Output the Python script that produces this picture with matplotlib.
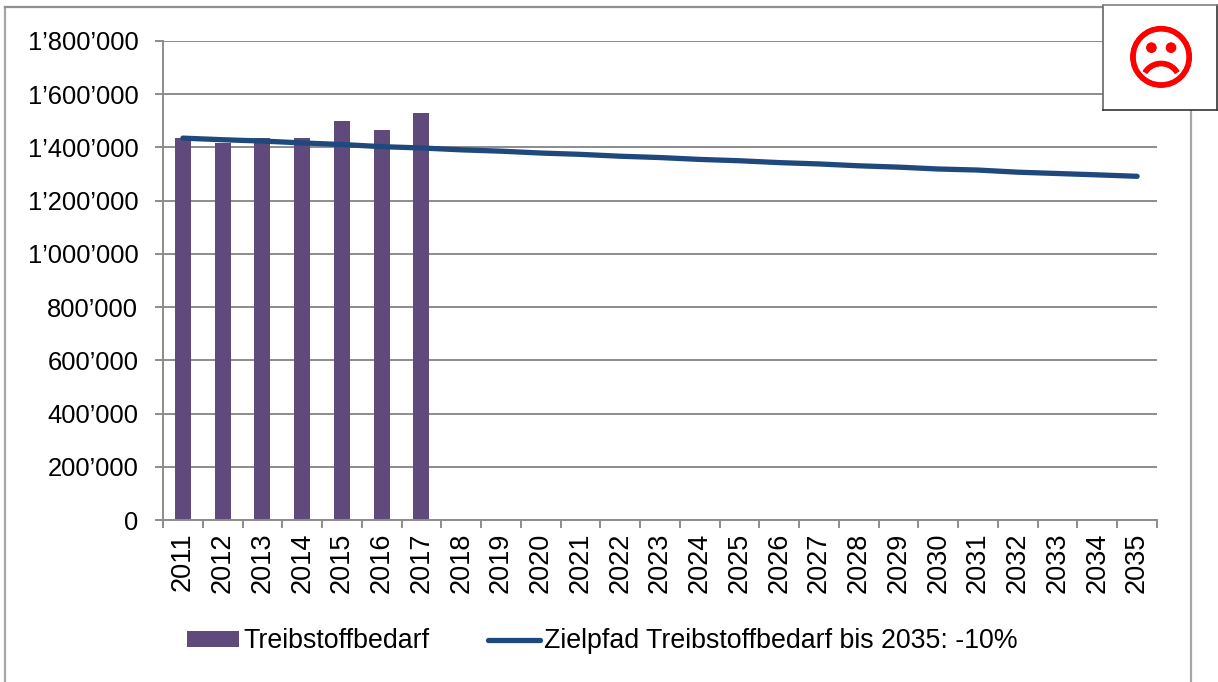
import matplotlib
matplotlib.use("Agg")
import matplotlib.pyplot as plt
import matplotlib.patheffects as pe
from matplotlib.ticker import FuncFormatter

plt.rcParams['font.family'] = ['Liberation Sans', 'DejaVu Sans']

W, H = 1218, 682
years = list(range(2011, 2036))
bar_years = [2011, 2012, 2013, 2014, 2015, 2016, 2017]
fuel = [1434000, 1415000, 1434000, 1434000, 1499000, 1465000, 1528000]
target = [1435000, 1429000, 1424000, 1417000, 1411000, 1403000, 1398000, 1391000,
          1386000, 1379000, 1374000, 1367000, 1362000, 1355000, 1350000, 1343000,
          1338000, 1331000, 1326000, 1319000, 1315000, 1307000, 1302000, 1297000, 1291500]
yticks = [0, 200000, 400000, 600000, 800000, 1000000, 1200000, 1400000, 1600000, 1800000]
label_bar = "Treibstoffbedarf"
label_line = "Zielpfad Treibstoffbedarf bis 2035: -10%"

GREY = "#8c8c8c"
PURPLE = "#604a7b"
NAVY = "#1f497d"

fig = plt.figure(figsize=(W / 100, H / 100), dpi=100, facecolor="white")

# outer chart frame (open at the bottom, runs off the image)
fig.add_artist(plt.Line2D([5 / W, 5 / W], [0, 1 - 6.5 / H], color="#a6a6a6", lw=1.6))
fig.add_artist(plt.Line2D([5 / W, 1191 / W], [1 - 6.5 / H, 1 - 6.5 / H], color="#909090", lw=1.6))
fig.add_artist(plt.Line2D([1191 / W, 1191 / W], [0, 1 - 6.5 / H], color="#a6a6a6", lw=1.6))

ax = fig.add_axes([163 / W, 1 - 520 / H, (1157 - 163) / W, (520 - 41) / H])
ax.set_xlim(2010.5, 2035.5)
ax.set_ylim(0, 1800000)
ax.set_axisbelow(True)
bars = ax.bar(bar_years, fuel, width=0.4, color=PURPLE, zorder=2)
line, = ax.plot(years, target, color=NAVY, lw=3.8, solid_capstyle="round", zorder=3)

ax.set_yticks(yticks)
ax.yaxis.set_major_formatter(FuncFormatter(lambda v, _: f"{int(v):,}".replace(",", "’")))
ax.set_xticks([y + 0.5 for y in [2010] + years])
ax.set_xticklabels([])
ax.set_xticks(years, minor=True)
ax.set_xticklabels([str(y) for y in years], minor=True, rotation=90, fontsize=19.5)
ax.tick_params(axis="x", which="minor", length=0, pad=9)
ax.tick_params(axis="x", which="major", length=5.5, width=1.4, color=GREY)
ax.tick_params(axis="y", length=5.8, width=1.4, color=GREY, labelsize=18.4, pad=12)
ax.yaxis.grid(True, color=GREY, lw=1.4)
for s in ("top", "right"):
    ax.spines[s].set_visible(False)
for s in ("left", "bottom"):
    ax.spines[s].set_color(GREY)
    ax.spines[s].set_linewidth(1.4)

fig.legend([bars, line], [label_bar, label_line], loc="center left",
           bbox_to_anchor=(187 / W, 1 - 641.5 / H), ncol=2, frameon=False, fontsize=19.3,
           handlelength=1.94, handleheight=0.52, handletextpad=0.15, columnspacing=2.2,
           borderpad=0, borderaxespad=0)

# smiley box
box = fig.add_axes([1103 / W, 1 - 110 / H, (1217 - 1103) / W, (110 - 5) / H], zorder=5)
box.set_xticks([])
box.set_yticks([])
box.set_facecolor("white")
for s in box.spines.values():
    s.set_color("#333333")
    s.set_linewidth(1.2)
box.spines["top"].set_color("#808080")
box.spines["left"].set_color("#666666")
box.text(0.51, 0.45, "\u2639", color="#ff0000", fontsize=50, family="DejaVu Sans",
         ha="center", va="center", transform=box.transAxes,
         path_effects=[pe.withStroke(linewidth=0.8, foreground="#ff0000")])

fig.savefig("out.png", dpi=100)
